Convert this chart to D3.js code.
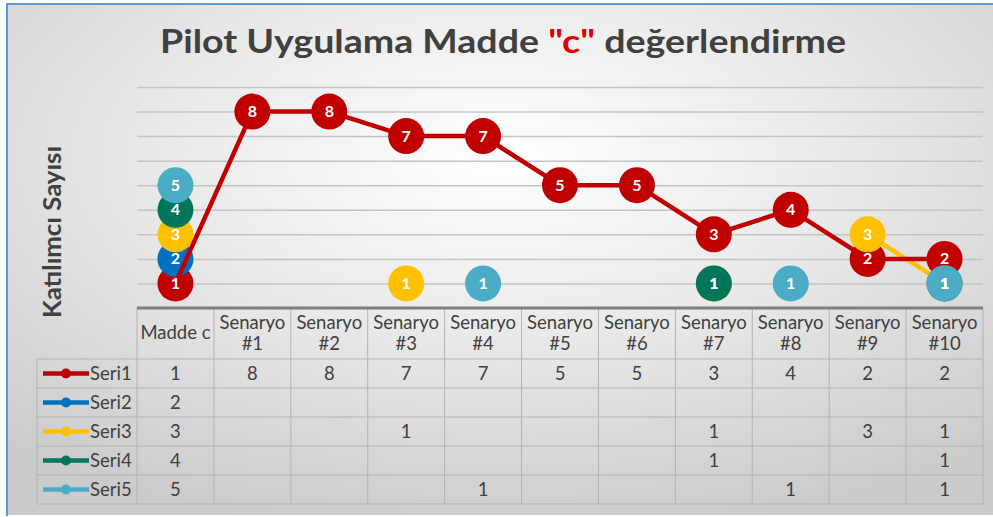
<!DOCTYPE html>
<html><head><meta charset="utf-8">
<script src="https://cdn.jsdelivr.net/npm/d3@7"></script>
<style>body{margin:0;background:#fff}svg{display:block}</style>
</head><body>
<script>
// ---- data ----
const categories = ["Madde c","Senaryo #1","Senaryo #2","Senaryo #3","Senaryo #4","Senaryo #5","Senaryo #6","Senaryo #7","Senaryo #8","Senaryo #9","Senaryo #10"];
const seriesNames = ["Seri1","Seri2","Seri3","Seri4","Seri5"];
const seri1 = [1,8,8,7,7,5,5,3,4,2,2];
const seri2 = [2,null,null,null,null,null,null,null,null,null,null];
const seri3 = [3,null,null,1,null,null,null,1,null,3,1];
const seri4 = [4,null,null,null,null,null,null,1,null,null,1];
const seri5 = [5,null,null,null,1,null,null,null,1,null,1];
const seriesColors = ["#C00000","#0070C0","#FFC000","#00765A","#4BACC6"];
const yTicks = [1,2,3,4,5,6,7,8,9];
const titleParts = [["Pilot Uygulama Madde ","#404040"],["\"c\"","#E00000"],[" değerlendirme","#404040"]];
const yTitle = "Katılımcı Sayısı";

const seriesData = [seri1,seri2,seri3,seri4,seri5];

const W = 993, H = 517;
const FONT = "Lato, 'Open Sans', sans-serif";
const TFS = 18.5;
const svg = d3.select("body").append("svg").attr("width", W).attr("height", H);

// background
const defs = svg.append("defs");
const grad = defs.append("radialGradient").attr("id","bg").attr("cx","50%").attr("cy","30%").attr("r","75%");
grad.append("stop").attr("offset","0").attr("stop-color","#ffffff");
grad.append("stop").attr("offset","0.45").attr("stop-color","#eaeaea");
grad.append("stop").attr("offset","1").attr("stop-color","#cbcbcb");
svg.append("rect").attr("x",7).attr("y",4).attr("width",W-7).attr("height",511).attr("fill","url(#bg)");
svg.append("line").attr("x1",7).attr("x2",W).attr("y1",4).attr("y2",4).attr("stroke","#5B9BD5").attr("stroke-width",2);
svg.append("line").attr("x1",7).attr("x2",7).attr("y1",3).attr("y2",516).attr("stroke","#5B9BD5").attr("stroke-width",2);

// title
const title = svg.append("text").attr("x",503).attr("y",53).attr("text-anchor","middle")
  .attr("font-family",FONT).attr("font-weight","bold").attr("font-size",32)
  .attr("textLength",686).attr("lengthAdjust","spacingAndGlyphs");
titleParts.forEach(([t,c]) => title.append("tspan").attr("fill",c).text(t));

// y axis title
svg.append("text").attr("transform","translate(61,232) rotate(-90)").attr("text-anchor","middle")
  .attr("font-family",FONT).attr("font-weight","bold").attr("font-size",25).attr("fill","#404040")
  .attr("textLength",172).attr("lengthAdjust","spacingAndGlyphs").text(yTitle);

// scales
const left = 137, right = 983;
const x = d3.scaleBand().domain(categories).range([left,right]);
const y = d3.scaleLinear().domain([0,9]).range([308,87]);
const cx = i => x(categories[i]) + x.bandwidth()/2;

// gridlines
const grid = svg.append("g").attr("transform",`translate(${left},0)`)
  .call(d3.axisLeft(y).tickValues(yTicks).tickSize(-(right-left)).tickFormat(""));
grid.select(".domain").remove();
grid.selectAll(".tick line").attr("stroke","#c4c4c4").attr("stroke-width",1.5);

// ---- data table ----
const rowScale = d3.scaleBand().domain(seriesNames).range([359,504]);
const tbl = svg.append("g").attr("font-family",FONT).attr("fill","#404040");
const cellStroke = "#b3b3b3";
tbl.append("line").attr("x1",left).attr("x2",right).attr("y1",359).attr("y2",359).attr("stroke",cellStroke);
seriesNames.forEach(n => {
  const yb = rowScale(n) + rowScale.bandwidth();
  tbl.append("line").attr("x1",37).attr("x2",right).attr("y1",yb).attr("y2",yb).attr("stroke",cellStroke);
});
tbl.append("line").attr("x1",37).attr("x2",left).attr("y1",359).attr("y2",359).attr("stroke",cellStroke);
categories.forEach(c => {
  tbl.append("line").attr("x1",x(c)).attr("x2",x(c)).attr("y1",308).attr("y2",504).attr("stroke",cellStroke);
});
tbl.append("line").attr("x1",right).attr("x2",right).attr("y1",308).attr("y2",504).attr("stroke",cellStroke);
tbl.append("line").attr("x1",37).attr("x2",37).attr("y1",359).attr("y2",504).attr("stroke",cellStroke);
svg.append("line").attr("x1",left).attr("x2",right).attr("y1",308).attr("y2",308).attr("stroke","#7f7f7f").attr("stroke-width",3);

// header labels
categories.forEach(c => {
  const parts = c.startsWith("Senaryo") ? c.split(" ") : [c];
  const t = tbl.append("text").attr("text-anchor","middle").attr("font-size",TFS).attr("fill","#404040");
  if (parts.length === 1) {
    t.attr("x", x(c)+x.bandwidth()/2).attr("y",339).text(c);
  } else {
    t.append("tspan").attr("x", x(c)+x.bandwidth()/2).attr("y",329).text(parts[0]);
    t.append("tspan").attr("x", x(c)+x.bandwidth()/2).attr("y",350).text(parts[1]);
  }
});
// values + legend keys
seriesNames.forEach((n,si) => {
  const yc = rowScale(n) + rowScale.bandwidth()/2;
  tbl.append("line").attr("x1",43).attr("x2",89).attr("y1",yc).attr("y2",yc)
    .attr("stroke",seriesColors[si]).attr("stroke-width",4.5);
  tbl.append("circle").attr("cx",66).attr("cy",yc).attr("r",5).attr("fill",seriesColors[si]);
  tbl.append("text").attr("x",90).attr("y",yc+6.5).attr("font-size",TFS).attr("fill","#404040").text(n);
  seriesData[si].forEach((v,i) => {
    if (v == null) return;
    tbl.append("text").attr("x",cx(i)).attr("y",yc+6.5).attr("text-anchor","middle")
      .attr("font-size",TFS).attr("fill","#404040").text(v);
  });
});

// ---- lines & markers ----
const lineGen = d3.line().defined(d => d.v != null).x(d => cx(d.i)).y(d => y(d.v));
const pts = seriesData.map(arr => arr.map((v,i) => ({v,i})));
const topLine = 0; // Seri1 line rendered above the other markers
pts.forEach((p,si) => {
  if (si === topLine) return;
  svg.append("path").datum(p).attr("d",lineGen).attr("fill","none")
    .attr("stroke",seriesColors[si]).attr("stroke-width",4.5).attr("stroke-linejoin","round");
});
pts.forEach((p,si) => {
  svg.append("g").selectAll("circle").data(p.filter(d => d.v != null)).join("circle")
    .attr("cx",d => cx(d.i)).attr("cy",d => y(d.v)).attr("r",18).attr("fill",seriesColors[si]);
});
svg.append("path").datum(pts[topLine]).attr("d",lineGen).attr("fill","none")
  .attr("stroke",seriesColors[topLine]).attr("stroke-width",4.5).attr("stroke-linejoin","round");
pts.forEach((p,si) => {
  svg.append("g").selectAll("text").data(p.filter(d => d.v != null)).join("text")
    .attr("x",d => cx(d.i)).attr("y",d => y(d.v)+5.5).attr("text-anchor","middle")
    .attr("font-family",FONT).attr("font-weight","bold").attr("font-size",16).attr("fill","#ffffff")
    .text(d => d.v);
});
</script>
</body></html>
